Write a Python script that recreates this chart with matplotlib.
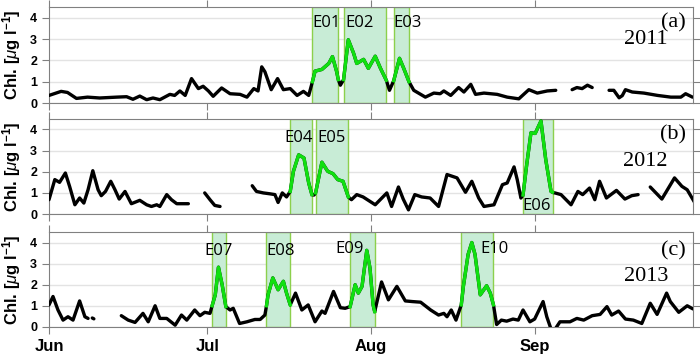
import numpy as np
import matplotlib
matplotlib.use('Agg')
import matplotlib.pyplot as plt

nan = np.nan

# days since 1 June, chlorophyll [ug/l]
days_2011 = [0, 2.3, 3.5, 5.2, 7.3, 9.6, 12.8, 14.7, 15.9, 17.2, 18.5, 19.7, 21, 22.9, 23.8, 24.8, 25.8,
             27, 28.3, 29.2, 30.2, 31.1, 32.7, 34.3, 36.2, 37.5, 38.8, 39.6, 40.3, 40.9, 42.1, 43.3,
             44.4, 45.7, 47, 48.2, 49.2, 49.9, 50.4, 51.7, 53, 53.7, 54.5, 54.8, 55.2, 55.8, 56.7,
             57.7, 58.3, 59.6, 60.5, 61.8, 62.8, 63.9, 64.5, 65.3, 66.4, 67.2, 68.2, 69.1, 71.3,
             72.9, 74.1, 74.8, 76.1, 77.6, 78.6, 79.9, 80.8, 82.4, 84.9, 86.8, 89, 90.9, 92.5, 94.4,
             96, 97.5, 99.1, 100, 101, 102, 102.9, 104.5, 106.1, 107, 108, 108.6, 109.2, 110.5,
             112.7, 115.3, 117.8, 119.7, 120.6, 121.9]
chl_2011 = [0.36, 0.55, 0.5, 0.22, 0.28, 0.24, 0.28, 0.3, 0.18, 0.33, 0.16, 0.24, 0.16, 0.41, 0.36, 0.57, 0.36,
            1.15, 0.68, 0.79, 0.57, 0.32, 0.71, 0.44, 0.41, 0.28, 0.68, 0.57, 1.7, 1.47, 0.63, 1.15,
            0.63, 0.68, 0.36, 0.55, 0.36, 1.0, 1.5, 1.58, 1.86, 2.18, 1.47, 1.1, 0.84, 1.1, 2.97,
            2.34, 1.86, 2.05, 1.63, 2.2, 1.63, 1.07, 0.6, 1.05, 2.1, 1.63, 1.0, 0.6, 0.28,
            0.47, 0.44, 0.57, 0.36, 0.73, 0.52, 0.88, 0.41, 0.47, 0.41, 0.28, 0.2, 0.63, 0.47, 0.57,
            0.6, nan, 0.63, 0.73, 0.68, 0.84, 0.73, nan, 0.6, 0.6, 0.25, 0.35, 0.63, 0.52,
            0.47, 0.36, 0.28, 0.28, 0.44, 0.28]

days_2012 = [0, 1.1, 2, 3.1, 3.9, 4.9, 5.8, 6.6, 7.4, 8.3, 9.3, 9.9, 10.7, 11.7, 12.5, 13.3, 14.4, 15.6,
             17.2, 18.5, 19.4, 20.4, 21, 22.3, 23.2, 24.2, 26.4, 28, 29.5, 30.5, 31.4, 32.4, 35,
             38.5, 39.3, 40.6, 41.8, 42.8, 43.4, 44.2, 45, 45.7, 46.3, 47.3, 48.3, 49.2, 49.8, 50.2,
             50.5, 51.7, 52.8, 53.8, 54.7, 55.7, 56.7, 57.3, 58.3, 59.5, 61.8, 64, 64.9, 66.2, 67.1,
             68.1, 69.3, 70.6, 72.2, 73.8, 75.4, 77.3, 78.9, 80.1, 81.4, 82.4, 84.3, 85.9, 86.8, 88.1,
             88.7, 89.4, 89.8, 90.5, 91.3, 92.1, 93.2, 94.1, 95.1, 95.4, 97, 98.9, 100.2, 101.1,
             102.4, 103.4, 104.3, 105.6, 107.5, 109.1, 110.4, 111.6, 112.8, 113.9, 116.1, 118.5,
             119.9, 120.9, 122.5]
chl_2012 = [0.68, 1.63, 1.5, 1.94, 1.31, 0.44, 0.76, 0.52, 1.15, 2.05, 1.15, 0.87, 1.07, 1.55, 1.15, 0.71, 1.07, 0.49,
            0.65, 0.44, 0.36, 0.44, 0.36, 0.92, 0.68, 0.49, 0.49, nan, 1.0, 0.68, 0.41, 0.36, nan,
            1.34, 1.07, 1.0, 0.96, 0.92, 0.55, 1.0, 0.81, 1.07, 2.02, 2.8, 2.65, 1.47, 0.92, 0.9,
            1.0, 2.45, 2.02, 1.91, 1.63, 1.55, 0.81, 0.68, 0.92, 0.81, 0.44, 1.0, 0.36, 1.28, 0.71,
            0.2, 0.92, 0.81, 0.76, 0.36, 1.87, 1.71, 1.03, 1.55, 0.76, 0.36, 0.44, 1.39, 1.47, 2.23,
            1.63, 0.76, 0.9, 2.34, 3.84, 3.81, 4.4, 2.58, 1.07, 1.03, 0.92, 0.44, 1.07, 0.92,
            1.23, 0.68, 1.55, 0.76, 1.12, 0.71, 0.87, 0.92, nan, 1.28, 0.71, 1.71,
            1.31, 1.15, 0.47]

days_2013 = [0, 0.76, 1.7, 2.66, 3.6, 4.55, 5.8, 6.8, 7.4, 7.9, 8.2, 8.5, 9, 13.7, 15.0, 16.3, 17.8, 18.8,
             20.1, 21.0, 22.3, 23.9, 25.1, 26.1, 27.6, 28.6, 29.5, 30.5, 30.9, 31.5, 32.1, 32.8, 33.5,
             34.3, 34.9, 36.1, 37.5, 39.0, 40.0, 40.9, 41.2, 41.5, 42.4, 43.4, 44.4, 45, 45.7, 46.7,
             47.9, 49.1, 50.4, 51.7, 52.3, 53.9, 55.2, 56.1, 57.05, 58, 58.6, 59.3, 60.2, 60.8, 61.4,
             61.7, 63, 64.3, 65.9, 67.5, 68.8, 70.4, 72.3, 73.8, 74.8, 75.4, 76.2, 77.1, 78.1, 78.5,
             79.4, 80.1, 80.7, 81.7, 82.9, 83.6, 84.2, 84.8, 85.7, 86.7, 87.9, 88.9, 89.8, 91.1, 92,
             93.6, 94.3, 95.1, 95.9, 96.8, 98.7, 100, 101.3, 102.9, 104.4, 105.7, 106.6, 107.9,
             109.2, 110.7, 112.3, 113.9, 115.2, 117, 117.7, 119.3, 120.9, 122]
chl_2013 = [1.04, 1.44, 0.8, 0.32, 0.48, 0.32, 1.23, 0.48, 0.4, nan, 0.42, 0.38, nan, 0.53, 0.32, 0.21, 0.64, 0.24,
            1.0, 0.4, 0.4, 0.08, 0.56, 0.32, 0.8, 0.53, 0.69, 0.64, 1.0, 1.52, 2.83, 2.0, 0.96,
            0.8, 0.88, 0.16, 0.24, 0.35, 0.35, 0.56, 1.0, 1.52, 2.32, 1.76, 2.16, 1.6, 1.04, 1.6,
            0.8, 1.04, 0.24, 0.75, 0.64, 1.68, 0.91, 0.88, 0.96, 2.0, 1.6, 1.92, 3.63, 2.8, 1.04,
            0.72, 2.13, 1.28, 1.92, 1.23, 1.2, 1.17, 0.8, 0.56, 0.64, 0.48, 0.8, 0.32, 1.04, 1.92,
            3.44, 4.0, 3.44, 1.52, 1.95, 1.6, 1.04, 0.11, 0.32, 0.27, 0.37, 0.32, 0.8, 0.24, 0.37,
            1.2, 0.48, -0.1, -0.1, 0.24, 0.24, 0.4, 0.32, 0.53, 0.59, 0.96, 0.56, 0.75,
            0.37, 0.32, 0.16, 1.12, 0.59, 1.6, 1.2, 0.69, 1.0, 0.85]

# events: name, start, end, label x, label y
events_2011 = [('E01', 49.9, 54.8, 49.9, 3.74), ('E02', 55.8, 63.9, 56.1, 3.74), ('E03', 65.3, 68.2, 65.3, 3.74)]
events_2012 = [('E04', 45.7, 49.8, 44.5, 3.6), ('E05', 50.5, 56.7, 50.8, 3.6), ('E06', 89.8, 95.4, 89.7, 0.39)]
events_2013 = [('E07', 30.9, 33.5, 29.5, 3.6), ('E08', 41.2, 45.7, 41.1, 3.6),
               ('E09', 57.05, 61.7, 54.2, 3.69), ('E10', 78.1, 84.2, 81.7, 3.69)]

month_days = [0, 30, 61, 92]
month_labels = ['Jun', 'Jul', 'Aug', 'Sep']

panels = [('(a)', '2011', days_2011, chl_2011, events_2011, 0.84, 0.667),
          ('(b)', '2012', days_2012, chl_2012, events_2012, 0.835, 0.55),
          ('(c)', '2013', days_2013, chl_2013, events_2013, 0.80, 0.53)]

plt.rcParams['mathtext.fontset'] = 'custom'
plt.rcParams['mathtext.rm'] = 'Liberation Sans'
plt.rcParams['mathtext.it'] = 'Liberation Sans:italic'
plt.rcParams['mathtext.bf'] = 'Liberation Sans:bold'

fig = plt.figure(figsize=(7, 3.58), dpi=100)
boxes = [(0.712, 0.268), (0.402, 0.266), (0.087, 0.265)]

for i, (tag, year, d, c, events, ty, yy) in enumerate(panels):
    ax = fig.add_axes([0.07, boxes[i][0], 0.92, boxes[i][1]])
    d = np.array(d)
    c = np.array(c)
    ax.plot(d, c, color='black', lw=2.4, solid_capstyle='round', zorder=3)
    for name, s, e, lx, ly in events:
        ax.axvspan(s, e, ymin=0, ymax=1, facecolor='#c8ecd6', edgecolor='#8cd04c', lw=1, zorder=1)
        m = (d >= s - 0.01) & (d <= e + 0.01)
        ax.plot(d[m], c[m], color='#10e010', lw=2.4, zorder=4)
        ax.text(lx, ly, name, fontsize=12, family='Open Sans', ha='left', va='center', zorder=5)
    ax.set_xlim(0, 122)
    ax.set_ylim(0, 4.5)
    ax.set_yticks([0, 1, 2, 3, 4])
    ax.set_xticks(month_days)
    ax.grid(axis='y', color='#e3e3e3', lw=1)
    ax.set_axisbelow(True)
    for sp in ax.spines.values():
        sp.set_color('#808080')
    ax.tick_params(axis='x', direction='out', top=True, length=5, color='#808080')
    ax.tick_params(axis='y', direction='out', right=True, length=5, color='#808080',
                   labelsize=9)
    for lab in ax.get_yticklabels():
        lab.set_fontweight('bold')
        lab.set_family('Liberation Sans')
    if i == 2:
        ax.set_xticklabels(month_labels, fontsize=12, fontweight='bold', family='Liberation Sans')
    else:
        ax.set_xticklabels([])
    ax.set_ylabel('Chl. [$\\mu$g l$^{\\mathbf{-1}}$]', fontsize=12, fontweight='bold',
                  family='Liberation Sans')
    ax.yaxis.set_label_coords(-0.040, 0.5)
    ax.text(0.989, ty, tag, transform=ax.transAxes, ha='right', va='center',
            fontsize=16, family='Liberation Serif')
    ax.text(0.961, yy, year, transform=ax.transAxes, ha='right', va='center',
            fontsize=16, family='Liberation Serif')

fig.savefig('out.png', dpi=100)
